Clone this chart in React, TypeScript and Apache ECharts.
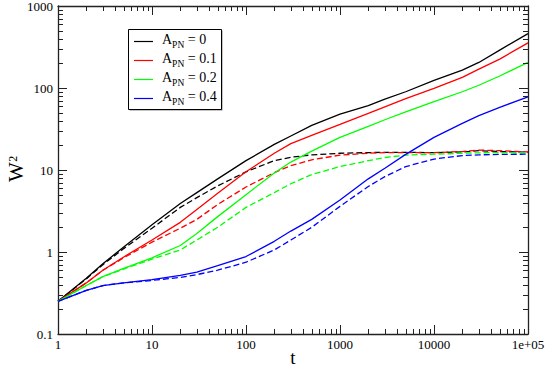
import React, { useEffect, useRef } from "react";
import * as echarts from "echarts";

const T = [1, 2, 3, 5, 10, 20, 30, 50, 100, 200, 300, 500, 1000, 2000, 3000, 5000, 10000, 20000, 30000, 50000, 100000];

const black = [0.25, 0.48, 0.72, 1.15, 2.15, 3.9, 5.3, 7.8, 13, 20.5, 26, 35, 48, 61, 73, 90, 124, 165, 205, 290, 460];
const blackDashed = [0.25, 0.47, 0.7, 1.1, 1.95, 3.5, 4.6, 6.4, 9.5, 13, 14.3, 15.3, 16, 16.3, 16.4, 16.4, 16.3, 16.6, 17.2, 16.8, 16.5];
const red = [0.25, 0.42, 0.6, 0.87, 1.4, 2.3, 3.3, 5.2, 9.5, 16, 21, 26.5, 36, 49, 59, 74, 99, 135, 170, 225, 355];
const redDashed = [0.25, 0.42, 0.6, 0.85, 1.32, 1.95, 2.5, 3.8, 6.2, 9.3, 11.3, 13.3, 15.2, 16, 16.3, 16.3, 16.3, 16.8, 17.5, 17.2, 16.6];
const green = [0.25, 0.39, 0.5, 0.63, 0.85, 1.2, 1.68, 2.7, 5, 9.2, 12.5, 17, 25, 34, 41, 51, 68, 90, 108, 140, 205];
const greenDashed = [0.25, 0.39, 0.5, 0.62, 0.82, 1.06, 1.4, 2.0, 3.5, 5.3, 6.8, 8.8, 11, 13, 14.2, 15.2, 15.6, 16, 16.2, 16.3, 16.3];
const blue = [0.25, 0.34, 0.39, 0.42, 0.46, 0.52, 0.57, 0.68, 0.88, 1.35, 1.8, 2.5, 4.3, 7.8, 10.5, 15.5, 25, 37, 46, 58, 78];
const blueDashed = [0.25, 0.34, 0.39, 0.42, 0.45, 0.49, 0.53, 0.6, 0.75, 1.06, 1.4, 2.0, 3.6, 6.3, 8.3, 11, 13.6, 15, 15.3, 15.5, 15.6];

const legendValues = ["0", "0.1", "0.2", "0.4"];
const legendNames = legendValues.map((v) => "A_PN = " + v);
const colors = ["#000000", "#ff0000", "#00ff00", "#0000ff"];
const solidData = [black, red, green, blue];
const dashedData = [blackDashed, redDashed, greenDashed, blueDashed];

const xTickValues = [1, 10, 100, 1000, 10000, 100000];
const xTickLabels = ["1", "10", "100", "1000", "10000", "1e+05"];
const yTickValues = [0.1, 1, 10, 100, 1000];
const yTickLabels = ["0.1", "1", "10", "100", "1000"];
const xName = "t";
const yNameMain = "W";
const yNameSup = "2";

const xMinor: number[] = [];
for (let d = 1; d < 100000; d *= 10) for (let k = 2; k <= 9; k++) xMinor.push(k * d);
const yMinor: number[] = [];
for (let d = 0.1; d < 999; d *= 10) for (let k = 2; k <= 9; k++) yMinor.push(+(k * d).toPrecision(3));

const FONT = "Liberation Serif";
const AXIS_COLOR = "#222";

export default function App() {
  const ref = useRef<HTMLDivElement>(null);
  useEffect(() => {
    if (!ref.current) return;
    const chart = echarts.init(ref.current, null, { renderer: "svg" });
    const axisLine = { show: true, lineStyle: { color: AXIS_COLOR, width: 1.3 } };
    const axisTick = { show: true, inside: true, length: 9, lineStyle: { color: AXIS_COLOR, width: 1 } };
    const series: any[] = [];
    for (let i = 0; i < 4; i++) {
      series.push({
        name: legendNames[i] + " dashed",
        type: "line",
        data: T.map((t, j) => [t, dashedData[i][j]]),
        symbol: "none",
        showSymbol: false,
        smooth: false,
        lineStyle: { color: colors[i], width: 1.3, type: [6, 3] },
        z: 3,
      });
    }
    for (let i = 0; i < 4; i++) {
      series.push({
        name: legendNames[i],
        type: "line",
        data: T.map((t, j) => [t, solidData[i][j]]),
        symbol: "none",
        showSymbol: false,
        smooth: false,
        lineStyle: { color: colors[i], width: 1.3 },
        z: 4,
      });
    }
    series.push({
      name: "xminor",
      type: "custom",
      silent: true,
      clip: false,
      data: xMinor.map((v) => [v, 1]),
      renderItem: (params: any, api: any) => {
        const cs = params.coordSys;
        const p = api.coord([api.value(0), 1]);
        const x = Math.round(p[0]) + 0.5;
        return {
          type: "group",
          children: [
            { type: "line", shape: { x1: x, y1: cs.y + cs.height, x2: x, y2: cs.y + cs.height - 5 }, style: { stroke: AXIS_COLOR, lineWidth: 1 } },
            { type: "line", shape: { x1: x, y1: cs.y, x2: x, y2: cs.y + 5 }, style: { stroke: AXIS_COLOR, lineWidth: 1 } },
          ],
        };
      },
      z: 5,
    });
    series.push({
      name: "yminor",
      type: "custom",
      silent: true,
      clip: false,
      data: yMinor.map((v) => [1, v]),
      renderItem: (params: any, api: any) => {
        const cs = params.coordSys;
        const p = api.coord([1, api.value(1)]);
        const y = Math.round(p[1]) + 0.5;
        return {
          type: "group",
          children: [
            { type: "line", shape: { x1: cs.x, y1: y, x2: cs.x + 5, y2: y }, style: { stroke: AXIS_COLOR, lineWidth: 1 } },
            { type: "line", shape: { x1: cs.x + cs.width, y1: y, x2: cs.x + cs.width - 5, y2: y }, style: { stroke: AXIS_COLOR, lineWidth: 1 } },
          ],
        };
      },
      z: 5,
    });

    chart.setOption({
      animation: false,
      backgroundColor: "#ffffff",
      grid: { left: 58, right: 17, top: 6, bottom: 32, containLabel: false, outerBoundsMode: "none" },
      xAxis: [
        { type: "log", logBase: 10, min: 1, max: 100000, position: "bottom", axisLine, axisTick, splitLine: { show: false }, axisLabel: { show: false } },
        { type: "log", logBase: 10, min: 1, max: 100000, position: "top", axisLine, axisTick, splitLine: { show: false }, axisLabel: { show: false } },
      ],
      yAxis: [
        { type: "log", logBase: 10, min: 0.1, max: 1000, position: "left", axisLine, axisTick, splitLine: { show: false }, axisLabel: { show: false } },
        { type: "log", logBase: 10, min: 0.1, max: 1000, position: "right", axisLine, axisTick, splitLine: { show: false }, axisLabel: { show: false } },
      ],
      series,
    });

    // Serif texts as plain graphic texts, positioned through the chart's own scales.
    const ctx = document.createElement("canvas").getContext("2d") as CanvasRenderingContext2D;
    const measure = (text: string, size: number) => {
      ctx.font = size + "px '" + FONT + "'";
      return ctx.measureText(text).width;
    };
    const toPx = (x: number, y: number) => chart.convertToPixel({ gridIndex: 0 }, [x, y]) as number[];
    const bl = toPx(1, 0.1);
    const tr = toPx(100000, 1000);
    const gLeft = bl[0];
    const gBottom = bl[1];
    const gRight = tr[0];
    const gTop = tr[1];
    const txt = (text: string, left: number, top: number, size: number, extra: any = {}) => ({
      type: "text",
      left,
      top,
      ...extra,
      style: { text, fontFamily: FONT, fontSize: size, fill: "#000" },
    });
    const graphics: any[] = [];

    // legend box first so that its texts are drawn on top
    const lx = 128;
    const ly = 29;
    graphics.push({ type: "rect", shape: { x: lx + 1.5, y: ly + 1.5, width: 93, height: 80 }, style: { fill: "#8a8a8a" } });
    graphics.push({ type: "rect", shape: { x: lx + 0.5, y: ly + 0.5, width: 93, height: 80 }, style: { fill: "#ffffff", stroke: "#000000", lineWidth: 1 } });

    xTickValues.forEach((v, i) => {
      const p = toPx(v, 1);
      const w = measure(xTickLabels[i], 13);
      graphics.push(txt(xTickLabels[i], p[0] - w / 2, gBottom + 4, 13));
    });
    yTickValues.forEach((v, i) => {
      const p = toPx(1, v);
      const w = measure(yTickLabels[i], 13);
      graphics.push(txt(yTickLabels[i], gLeft - 5 - w, p[1] - 6.5, 13));
    });
    const midX = (gLeft + gRight) / 2;
    const midY = (gTop + gBottom) / 2;
    graphics.push(txt(xName, midX - measure(xName, 19) / 2, gBottom + 14, 19));
    const wW = measure(yNameMain, 21);
    const w2 = measure(yNameSup, 12);
    graphics.push(txt(yNameMain, gLeft - 52.5, midY + 12 - wW, 21, { rotation: Math.PI / 2 }));
    graphics.push(txt(yNameSup, gLeft - 51.5, midY + 12 - wW - 0.5 - w2, 12, { rotation: Math.PI / 2 }));

    const wA = measure("A", 14);
    const wPN = measure("PN", 9.5);
    legendValues.forEach((v, i) => {
      const yy = ly + 12.5 + 19 * i;
      graphics.push({ type: "line", shape: { x1: lx + 6, y1: yy, x2: lx + 25, y2: yy }, style: { stroke: colors[i], lineWidth: 1.2 } });
      graphics.push(txt("A", lx + 34, yy - 9, 14));
      graphics.push(txt("PN", lx + 34 + wA, yy - 2, 9.5));
      graphics.push(txt("= " + v, lx + 34 + wA + wPN + measure(" ", 14), yy - 9, 14));
    });
    chart.setOption({ graphic: graphics });
    return () => chart.dispose();
  }, []);
  return <div ref={ref} style={{ width: 545, height: 366, position: "absolute", left: 0, top: 0 }} />;
}
